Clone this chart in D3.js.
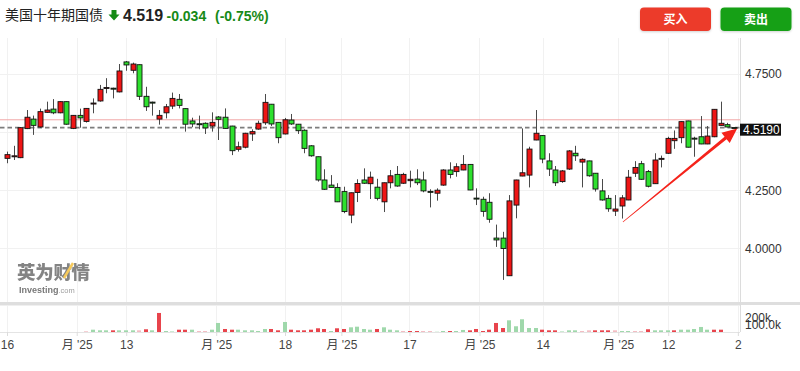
<!DOCTYPE html>
<html><head><meta charset="utf-8">
<script src="https://cdn.jsdelivr.net/npm/d3@7"></script>
<style>
html,body{margin:0;padding:0;background:#fff;}
svg{display:block;}
</style></head><body>
<svg id="c" width="800" height="371"></svg>
<script>
// ---- data ----
const title = "美国十年期国债";
const lastPrice = "4.519";
const change = "-0.034";
const changePct = "(-0.75%)";
const prevClose = 4.553;
const current = 4.519;

const openV = [4.387,4.396,4.390,4.515,4.556,4.522,4.585,4.599,4.583,4.631,4.516,4.572,4.546,4.623,4.634,4.690,4.689,4.673,4.802,4.766,
4.790,4.654,4.629,4.556,4.583,4.612,4.641,4.601,4.548,4.536,4.538,4.526,4.565,4.564,4.526,4.426,4.435,4.492,4.513,4.540,
4.620,4.542,4.492,4.552,4.534,4.508,4.441,4.394,4.294,4.272,4.262,4.244,4.143,4.240,4.294,4.278,4.263,4.200,4.282,4.318,
4.280,4.291,4.298,4.294,4.245,4.237,4.272,4.337,4.330,4.337,4.361,4.216,4.211,4.198,4.044,4.044,3.882,4.186,4.311,4.315,
4.466,4.485,4.376,4.337,4.287,4.341,4.409,4.371,4.376,4.323,4.247,4.215,4.160,4.182,4.208,4.323,4.364,4.330,4.278,4.385,
4.409,4.463,4.476,4.548,4.474,4.480,4.449,4.480,4.529,4.532,4.520];
const highV = [4.416,4.441,4.521,4.595,4.571,4.601,4.631,4.642,4.633,4.632,4.573,4.601,4.603,4.645,4.703,4.732,4.691,4.793,4.806,4.799,
4.791,4.695,4.631,4.595,4.621,4.670,4.664,4.602,4.562,4.571,4.542,4.585,4.569,4.602,4.527,4.459,4.497,4.512,4.549,4.664,
4.621,4.543,4.561,4.578,4.535,4.512,4.444,4.395,4.340,4.315,4.280,4.265,4.240,4.297,4.344,4.330,4.299,4.283,4.337,4.354,
4.325,4.334,4.340,4.330,4.254,4.258,4.340,4.370,4.366,4.401,4.362,4.258,4.222,4.237,4.102,4.071,4.229,4.295,4.516,4.437,
4.595,4.486,4.409,4.354,4.337,4.423,4.441,4.387,4.377,4.324,4.298,4.229,4.229,4.229,4.337,4.375,4.376,4.337,4.409,4.399,
4.480,4.507,4.546,4.549,4.480,4.569,4.526,4.599,4.631,4.540,4.520];
const lowV = [4.366,4.380,4.388,4.513,4.488,4.518,4.583,4.577,4.581,4.532,4.513,4.519,4.541,4.581,4.631,4.667,4.645,4.671,4.764,4.753,
4.638,4.591,4.571,4.532,4.559,4.599,4.602,4.502,4.521,4.512,4.492,4.502,4.466,4.515,4.401,4.416,4.430,4.462,4.510,4.531,
4.526,4.452,4.490,4.531,4.492,4.409,4.394,4.287,4.251,4.261,4.199,4.151,4.108,4.199,4.277,4.212,4.206,4.156,4.258,4.265,
4.277,4.262,4.272,4.241,4.176,4.205,4.269,4.301,4.308,4.336,4.250,4.186,4.136,4.110,4.006,3.864,3.881,4.129,4.310,4.262,
4.465,4.366,4.311,4.268,4.282,4.337,4.376,4.262,4.308,4.244,4.205,4.157,4.139,4.128,4.207,4.307,4.294,4.262,4.277,4.348,
4.406,4.428,4.452,4.434,4.394,4.448,4.448,4.478,4.528,4.521,4.518];
const closeV = [4.403,4.398,4.519,4.564,4.529,4.588,4.595,4.583,4.631,4.534,4.572,4.561,4.602,4.625,4.684,4.692,4.687,4.763,4.789,4.793,
4.654,4.609,4.627,4.572,4.609,4.645,4.615,4.534,4.535,4.534,4.518,4.542,4.555,4.516,4.420,4.437,4.495,4.502,4.538,4.628,
4.535,4.476,4.553,4.535,4.506,4.430,4.398,4.294,4.254,4.262,4.200,4.158,4.239,4.279,4.280,4.306,4.215,4.282,4.312,4.268,
4.318,4.297,4.282,4.247,4.243,4.250,4.337,4.318,4.351,4.361,4.251,4.214,4.159,4.125,4.036,3.999,4.204,4.294,4.325,4.427,
4.495,4.384,4.341,4.282,4.333,4.419,4.398,4.383,4.312,4.255,4.208,4.170,4.169,4.217,4.306,4.348,4.297,4.267,4.380,4.387,
4.473,4.473,4.545,4.435,4.472,4.449,4.483,4.598,4.538,4.522,4.519];
// volume in thousands
const volume = [0,0,0,0,0,0,0,0,0,0,0,0,10,33,24,24,24,24,24,24,
24,39,24,272,14,14,33,33,33,14,14,33,129,43,33,33,24,24,14,43,
43,24,143,33,24,24,33,53,43,14,53,43,67,76,43,33,43,67,33,24,
14,14,14,14,14,7,14,14,14,29,24,43,14,33,129,57,167,82,182,57,
57,33,24,24,14,24,24,14,24,24,24,24,24,14,14,14,14,39,24,24,
24,24,33,33,43,72,33,33,33,0,0];
// volume tone: g = up, r = down, lg / p = faded
const volTone = ["g","g","g","g","g","g","g","g","g","g","g","g","p","g","g","g","r","g","g","g",
"p","r","g","r","g","lg","r","r","g","p","p","g","g","r","r","g","g","g","g","g",
"r","r","g","r","r","r","r","r","r","g","r","r","g","g","g","g","r","g","g","g",
"p","r","r","p","p","lg","g","r","g","g","r","r","r","r","r","r","g","g","g","g",
"g","r","r","r","lg","g","g","p","p","r","r","r","p","g","g","p","p","r","g","g",
"g","r","g","g","g","g","g","r","r","g","g"];

const priceTicks = [4.0, 4.25, 4.5, 4.75];
const priceLabelTicks = [4.0, 4.25, 4.75]; // 4.5000 is covered by the live price tag
const volTicks = [100, 200];
const volTickLabels = ["100.0k", "200k"];
const xTickPos = [0, 10.55, 18.04, 31.66, 42.07, 50.6, 60.9, 71.5, 81.08, 92.5, 100.06, 110.6];
const xTickLabels = ["16","月 '25","13","月 '25","18","月 '25","17","月 '25","14","月 '25","12","2"];
const arrowFrom = {i: 93.2, v: 4.113};
const arrowTo = {i: 110.5, v: 4.516};

// ---- drawing ----
const svg = d3.select('#c');
const axisX = 740, paneTop = 38, paneBottom = 302, volBottom = 332;
const x = d3.scaleLinear().domain([0, 110]).range([7, 733.9]);
const y = d3.scaleLinear().domain([4.0, 4.75]).range([248.3, 74]);
const yv = d3.scaleLinear().domain([0, 200]).range([volBottom, 318]);

const defs = svg.append('defs');
defs.append('clipPath').attr('id','pclip').append('rect').attr('x',0).attr('y',paneTop).attr('width',axisX).attr('height',paneBottom-paneTop);
const sh = defs.append('filter').attr('id','sh').attr('x','-20%').attr('y','-30%').attr('width','140%').attr('height','170%');
sh.append('feDropShadow').attr('dx',0).attr('dy',1).attr('stdDeviation',1.2).attr('flood-color','#000').attr('flood-opacity',0.18);

// header
const hdr = svg.append('g');
hdr.append('text').attr('x',5).attr('y',20).attr('font-family','"Noto Sans CJK SC", sans-serif').attr('font-size',14).attr('fill','#222').text(title);
hdr.append('path').attr('d','M111.5,10 h5 v4.5 h3 l-5.5,6 l-5.5,-6 h3 z').attr('fill','#168a16');
hdr.append('text').attr('x',123).attr('y',20.5).attr('font-family','"Liberation Sans", Arial, sans-serif').attr('font-weight','bold').attr('font-size',16).attr('fill','#222').text(lastPrice);
hdr.append('text').attr('x',166.5).attr('y',20.5).attr('font-family','"Liberation Sans", Arial, sans-serif').attr('font-weight','bold').attr('font-size',14).attr('fill','#178a17').text(change);
hdr.append('text').attr('x',215).attr('y',20.5).attr('font-family','"Liberation Sans", Arial, sans-serif').attr('font-weight','bold').attr('font-size',14).attr('fill','#178a17').text(changePct);

const buttons = [{t:'买入', x0:640, c:'#ec3a2b'},{t:'卖出', x0:720.5, c:'#16a016'}];
buttons.forEach(b=>{
  hdr.append('rect').attr('x',b.x0).attr('y',7.5).attr('width',71).attr('height',23.5).attr('rx',4).attr('fill',b.c).attr('filter','url(#sh)');
  hdr.append('text').attr('x',b.x0+35.5).attr('y',23.5).attr('text-anchor','middle').attr('font-family','"Noto Sans CJK SC", sans-serif').attr('font-weight','bold').attr('font-size',12).attr('fill','#fff').text(b.t);
});

// grids
const grid = svg.append('g');
grid.selectAll('.hg').data(priceTicks).enter().append('line')
  .attr('x1',0).attr('x2',axisX).attr('y1',d=>Math.round(y(d))+0.5).attr('y2',d=>Math.round(y(d))+0.5).attr('stroke','#f1f1f1');
grid.selectAll('.vg').data(xTickPos).enter().append('line')
  .attr('x1',d=>Math.round(x(d))+0.5).attr('x2',d=>Math.round(x(d))+0.5).attr('y1',paneTop).attr('y2',volBottom).attr('stroke','#f1f1f1');

// watermark
const wm = svg.append('g').attr('opacity',0.72);
wm.append('text').attr('x',17).attr('y',279).attr('font-family','"Noto Sans CJK SC", sans-serif').attr('font-weight','900').attr('font-size',18.5).attr('fill','#555').attr('letter-spacing','-0.3').text('英为财情');
wm.append('path').attr('d','M64,278 L73,263').attr('stroke','#f3b61f').attr('stroke-width',2.5);
const wt = wm.append('text').attr('x',19).attr('y',293).attr('font-family','"Liberation Sans", Arial, sans-serif').attr('font-size',9);
wt.append('tspan').attr('font-weight','bold').attr('fill','#444').text('Investing');
wt.append('tspan').attr('fill','#777').attr('font-size',7.5).text('.com');

// reference lines
svg.append('line').attr('x1',0).attr('x2',axisX).attr('y1',y(prevClose)).attr('y2',y(prevClose)).attr('stroke','#f2a7a7').attr('stroke-width',1);
svg.append('line').attr('x1',0).attr('x2',axisX).attr('y1',y(current)).attr('y2',y(current)).attr('stroke','#7d7d7d').attr('stroke-width',1.8).attr('stroke-dasharray','4.5,3');

// candles
const idx = d3.range(openV.length);
const cg = svg.append('g').attr('clip-path','url(#pclip)');
cg.selectAll('.wick').data(idx).enter().append('line')
  .attr('x1',i=>Math.round(x(i))+0.5).attr('x2',i=>Math.round(x(i))+0.5)
  .attr('y1',i=>y(highV[i])).attr('y2',i=>y(lowV[i]))
  .attr('stroke','#4a4a4a').attr('stroke-width',1);
cg.selectAll('.body').data(idx).enter().append('rect')
  .attr('x',i=>Math.round(x(i))-2)
  .attr('y',i=>y(Math.max(openV[i],closeV[i])))
  .attr('width',5)
  .attr('height',i=>Math.max(1, Math.abs(y(openV[i])-y(closeV[i]))))
  .attr('fill',i=>closeV[i]>=openV[i] ? '#ee1515' : '#2ee02e')
  .attr('stroke','#111').attr('stroke-width',0.9);

// price pane / volume separator
svg.append('rect').attr('x',0).attr('y',paneBottom).attr('width',axisX+60).attr('height',3).attr('fill','#dedede');
svg.append('line').attr('x1',0).attr('x2',axisX).attr('y1',paneBottom+3.5).attr('y2',paneBottom+3.5).attr('stroke','#efefef');

// volume
const toneColor = {g:'#9fd8ab', r:'#e8444c', lg:'#cdebd3', p:'#f3bcc2'};
svg.append('g').selectAll('rect').data(idx.filter(i=>volume[i]>0)).enter().append('rect')
  .attr('x',i=>Math.round(x(i))-2)
  .attr('y',i=>yv(volume[i]))
  .attr('width',4)
  .attr('height',i=>volBottom-yv(volume[i]))
  .attr('fill',i=>toneColor[volTone[i]]);

// axes lines
svg.append('line').attr('x1',axisX+0.5).attr('x2',axisX+0.5).attr('y1',paneTop).attr('y2',volBottom).attr('stroke','#dcdcdc');
svg.append('line').attr('x1',0).attr('x2',axisX).attr('y1',volBottom+0.5).attr('y2',volBottom+0.5).attr('stroke','#e4e4e4');

// right price axis
const pa = svg.append('g').attr('transform',`translate(${axisX},0)`)
  .call(d3.axisRight(y).tickValues(priceLabelTicks).tickFormat(d3.format('.4f')).tickSize(0).tickPadding(5));
pa.select('.domain').remove();
pa.selectAll('text').attr('font-family','"Liberation Sans", Arial, sans-serif').attr('font-size',12).attr('fill','#333');

// volume axis (labels sit close together, as in the source chart)
const va = svg.append('g').attr('transform',`translate(${axisX},0)`)
  .call(d3.axisRight(yv).tickValues(volTicks).tickFormat((d,i)=>volTickLabels[i]).tickSize(0).tickPadding(5));
va.select('.domain').remove();
va.selectAll('text').attr('font-family','"Liberation Sans", Arial, sans-serif').attr('font-size',12).attr('fill','#333');

// current price label
const cy = y(current);
svg.append('rect').attr('x',axisX).attr('y',cy-4).attr('width',41).attr('height',12).attr('fill','#111');
svg.append('text').attr('x',axisX+3).attr('y',cy+6.5).attr('font-family','"Liberation Sans", Arial, sans-serif').attr('font-size',12).attr('fill','#fff').text(current.toFixed(4));

// x axis
const xa = svg.append('g').attr('transform',`translate(0,${volBottom})`)
  .call(d3.axisBottom(x).tickValues(xTickPos).tickFormat((d,i)=>xTickLabels[i]).tickSize(4).tickPadding(4));
xa.select('.domain').remove();
xa.selectAll('line').attr('stroke','#dcdcdc');
xa.selectAll('text').attr('font-family','"Liberation Sans", "Noto Sans CJK SC", sans-serif').attr('font-size',12).attr('fill','#444');

// red annotation arrow
(function(){
  const x0 = x(arrowFrom.i), y0 = y(arrowFrom.v), x1 = x(arrowTo.i), y1 = y(arrowTo.v);
  const dx = x1-x0, dy = y1-y0, L = Math.hypot(dx,dy);
  const ux = dx/L, uy = dy/L, nx = -uy, ny = ux;
  const hl = 15, hw = 6.5;
  const bx = x1 - ux*hl, by = y1 - uy*hl;
  const w0 = 0.3, w1 = 1.6;
  const pts = [
    [x0+nx*w0, y0+ny*w0], [bx+nx*w1, by+ny*w1], [bx+nx*hw, by+ny*hw], [x1,y1],
    [bx-nx*hw, by-ny*hw], [bx-nx*w1, by-ny*w1], [x0-nx*w0, y0-ny*w0]
  ];
  svg.append('path').attr('d','M'+pts.map(p=>p.join(',')).join('L')+'Z').attr('fill','#f5231b');
})();
</script>
</body></html>
